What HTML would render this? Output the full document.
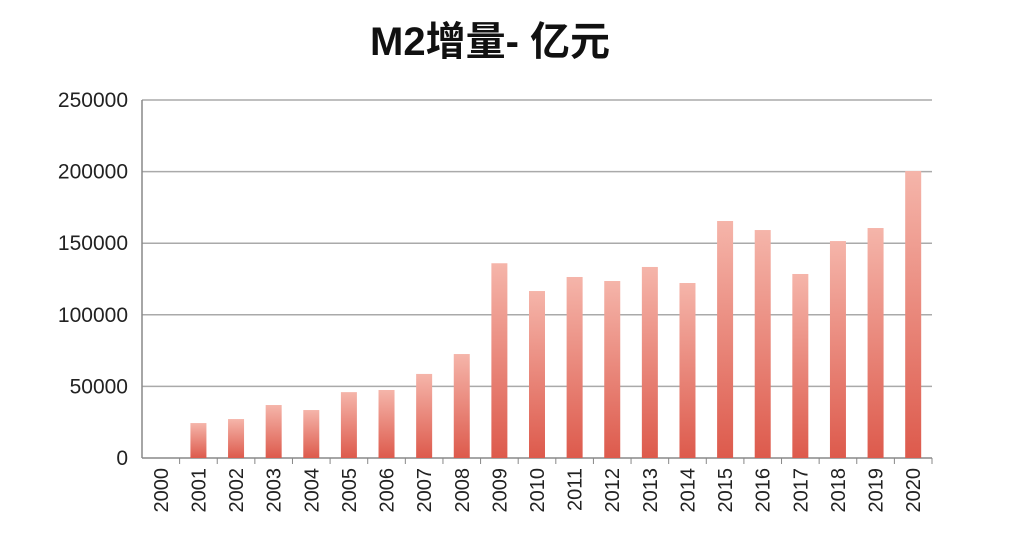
<!DOCTYPE html>
<html><head><meta charset="utf-8"><style>
body{margin:0;background:#fff;}
svg{display:block;font-family:"Liberation Sans","Noto Sans CJK SC",sans-serif;}
</style></head><body>
<svg id="chart" width="1024" height="540">
<defs><linearGradient id="bg" x1="0" y1="0" x2="0" y2="1"><stop offset="0" stop-color="#f5b5aa"/><stop offset="1" stop-color="#dd5a4c"/></linearGradient></defs>
<text x="490" y="55" text-anchor="middle" font-size="40" font-weight="bold" fill="#111">M2增量- 亿元</text>
<g id="grid"></g><g id="bars"></g><g id="xl"></g>
</svg>
<script>
const categories=["2000","2001","2002","2003","2004","2005","2006","2007","2008","2009","2010","2011","2012","2013","2014","2015","2016","2017","2018","2019","2020"];
const values=[0,24400,27200,37000,33500,46000,47500,58700,72600,136000,116600,126400,123600,133400,122200,165500,159200,128500,151500,160600,200400];
const yTicks=[0,50000,100000,150000,200000,250000];
const ns="http://www.w3.org/2000/svg";
const x0=142,x1=932,y0=458,y1=100,yMax=250000;
const band=(x1-x0)/categories.length;
const y=v=>y0-(v/yMax)*(y0-y1);
const xc=i=>x0+band*(i+0.5);
function mk(t,a,p){const e=document.createElementNS(ns,t);for(const k in a)e.setAttribute(k,a[k]);p.appendChild(e);return e;}
const g=document.getElementById('grid');
yTicks.forEach(v=>{
 const l=mk('line',{x1:x0,x2:x1,y1:y(v),y2:y(v),stroke:v===0?'#888':'#aaa','stroke-width':1.5},g);
 
 
 const t=mk('text',{x:128,y:y(v)+7,'text-anchor':'end','font-size':21,fill:'#222'},g);
 t.textContent=v;
 
 
});
const ax=mk('line',{x1:x0,x2:x0,y1:y1,y2:y0,stroke:'#888','stroke-width':1.5},g);


categories.forEach((c,i)=>{
 const tk=mk('line',{x1:x0+band*(i+1),x2:x0+band*(i+1),y1:y0,y2:y0+6,stroke:'#888'},g);
 
 
});
const b=document.getElementById('bars');
values.forEach((v,i)=>{
 if(v<=0)return;
 const r=mk('rect',{x:xc(i)-8,y:y(v),width:16,height:y0-y(v),fill:'url(#bg)'},b);
 
 
});
const xl=document.getElementById('xl');
categories.forEach((c,i)=>{
 const t=mk('text',{x:0,y:0,'text-anchor':'end','font-size':20,fill:'#222',transform:`translate(${xc(i)+7},468) rotate(-90)`},xl);
 t.textContent=c;
 
 
});
</script>
</body></html>
